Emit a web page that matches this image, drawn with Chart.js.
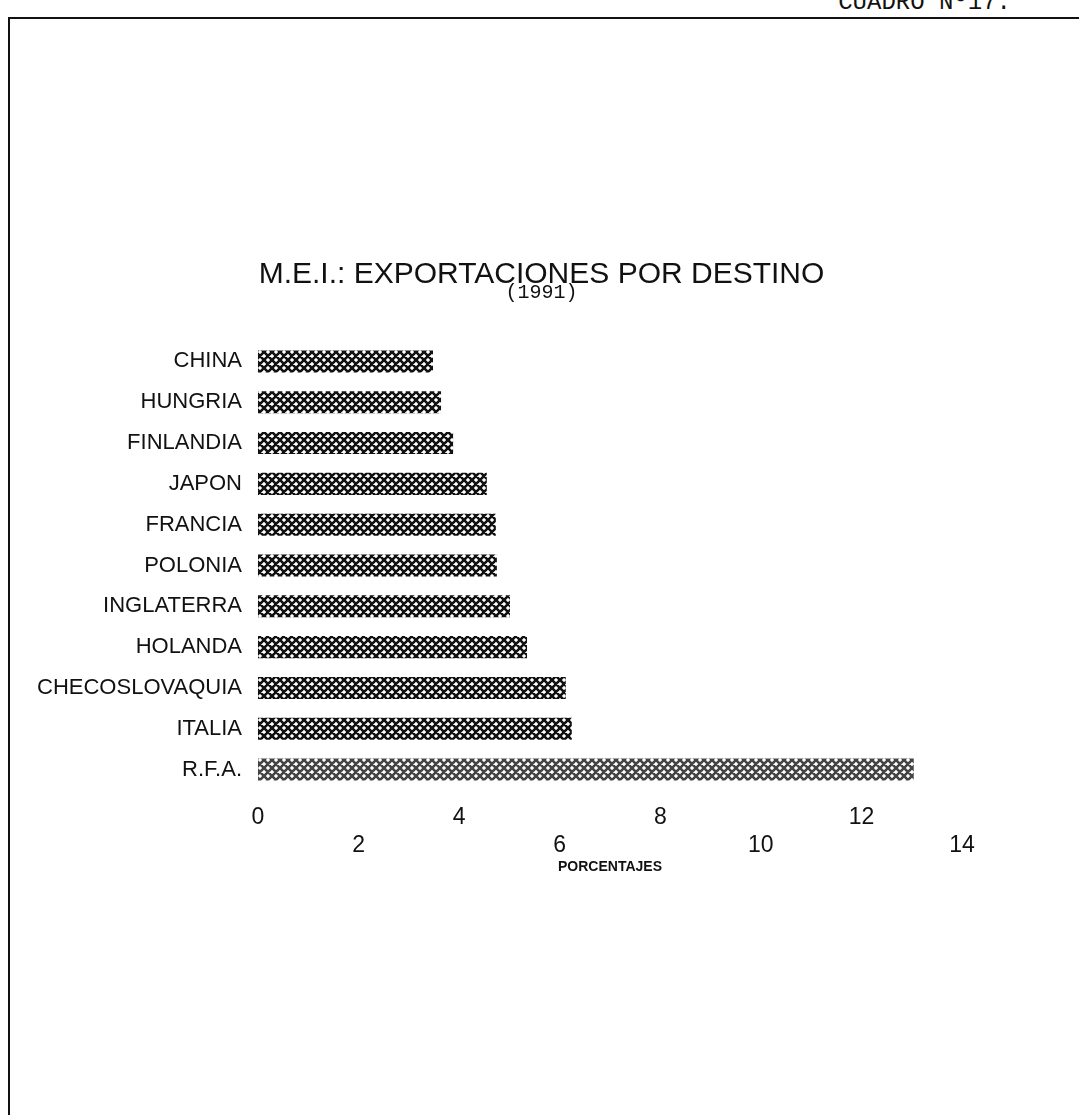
<!DOCTYPE html>
<html>
<head>
<meta charset="utf-8">
<title>M.E.I.: Exportaciones por destino (1991)</title>
<script src="https://cdn.jsdelivr.net/npm/chart.js@4"></script>
<style>
  html, body { margin: 0; padding: 0; background: #fff; }
  body { width: 1079px; height: 1115px; position: relative; overflow: hidden; }
  .frame { position: absolute; left: 8px; top: 17px; right: -4px; bottom: -4px;
           border-left: 2px solid #111; border-top: 2px solid #111; }
  .cuadro { position: absolute; right: 68px; top: -11px; font: 24px "Liberation Mono", monospace; color: #111; }
  #wrap { position: absolute; left: 0; top: 0; width: 1079px; height: 1115px; }
</style>
</head>
<body>
<div class="frame"></div>
<div class="cuadro">CUADRO Nº17.</div>
<div id="wrap"><canvas id="chart"></canvas></div>
<script>
// data (percent of exports)
const destinos = ['CHINA', 'HUNGRIA', 'FINLANDIA', 'JAPON', 'FRANCIA', 'POLONIA',
                  'INGLATERRA', 'HOLANDA', 'CHECOSLOVAQUIA', 'ITALIA', 'R.F.A.'];
const porcentajes = [3.48, 3.64, 3.88, 4.55, 4.73, 4.75, 5.01, 5.35, 6.12, 6.24, 13.04];
const xTicks = [0, 2, 4, 6, 8, 10, 12, 14];

const titulo = 'M.E.I.: EXPORTACIONES POR DESTINO';
const subtitulo = '(1991)';

// crosshatch fill like the old plotter output
function hatch(color) {
    const c = document.createElement('canvas');
    c.width = 8; c.height = 8;
    const g = c.getContext('2d');
    g.fillStyle = '#fff';
    g.fillRect(0, 0, 8, 8);
    g.strokeStyle = color;
    g.lineWidth = 2.6;
    g.beginPath();
    for (let k = -8; k <= 16; k += 8) {
        g.moveTo(k, 0); g.lineTo(k + 8, 8);
        g.moveTo(k + 8, 0); g.lineTo(k, 8);
    }
    g.stroke();
    return g.createPattern(c, 'repeat');
}
const negro = hatch('#111');
const gris = hatch('#444');

// heading is centred on the page, not on the plot area
const encabezado = {
    id: 'encabezado',
    afterDraw(chart) {
        const ctx = chart.ctx;
        const cx = chart.width / 2 + 2;
        ctx.save();
        ctx.fillStyle = '#111';
        ctx.textAlign = 'center';
        ctx.textBaseline = 'alphabetic';
        ctx.font = '30px "Liberation Sans", Arial, sans-serif';
        ctx.fillText(titulo, cx, 283);
        ctx.font = '20px "Liberation Mono", monospace';
        ctx.fillText(subtitulo, cx, 298);
        ctx.restore();
    }
};

new Chart(document.getElementById('chart'), {
    type: 'bar',
    data: {
        labels: destinos,
        datasets: [{
            data: porcentajes,
            backgroundColor: destinos.map(d => d === 'R.F.A.' ? gris : negro),
            borderWidth: 0,
            categoryPercentage: 1,
            barPercentage: 0.54
        }]
    },
    plugins: [encabezado],
    options: {
        indexAxis: 'y',
        responsive: true,
        maintainAspectRatio: false,
        animation: false,
        layout: { padding: { left: 10, right: 117, top: 341, bottom: 239 } },
        plugins: {
            legend: { display: false },
            tooltip: { enabled: false }
        },
        scales: {
            y: {
                grid: { display: false, drawTicks: false },
                border: { display: false },
                ticks: {
                    color: '#111',
                    padding: 16,
                    autoSkip: false,
                    font: { family: '"Liberation Sans", Arial, sans-serif', size: 22 }
                },
                afterFit: s => { s.width = 248; }
            },
            x: {
                min: 0,
                max: 14,
                afterBuildTicks: s => { s.ticks = xTicks.map(v => ({ value: v })); },
                afterFit: s => { s.height = 86; },
                grid: { display: false, drawTicks: false },
                border: { display: false },
                ticks: {
                    color: '#111',
                    padding: 14,
                    maxRotation: 0,
                    autoSkip: false,
                    font: { family: '"Liberation Sans", Arial, sans-serif', size: 23, lineHeight: 1.22 },
                    // alternate labels on two rows, as in the original
                    callback: (v, i) => i % 2 === 0 ? [String(v), ''] : ['', String(v)]
                },
                title: {
                    display: true,
                    text: 'PORCENTAJES',
                    color: '#111',
                    font: { family: '"Liberation Sans", Arial, sans-serif', size: 14, weight: 'bold' },
                    padding: { top: 0, bottom: 0 }
                }
            }
        }
    }
});
</script>
</body>
</html>
